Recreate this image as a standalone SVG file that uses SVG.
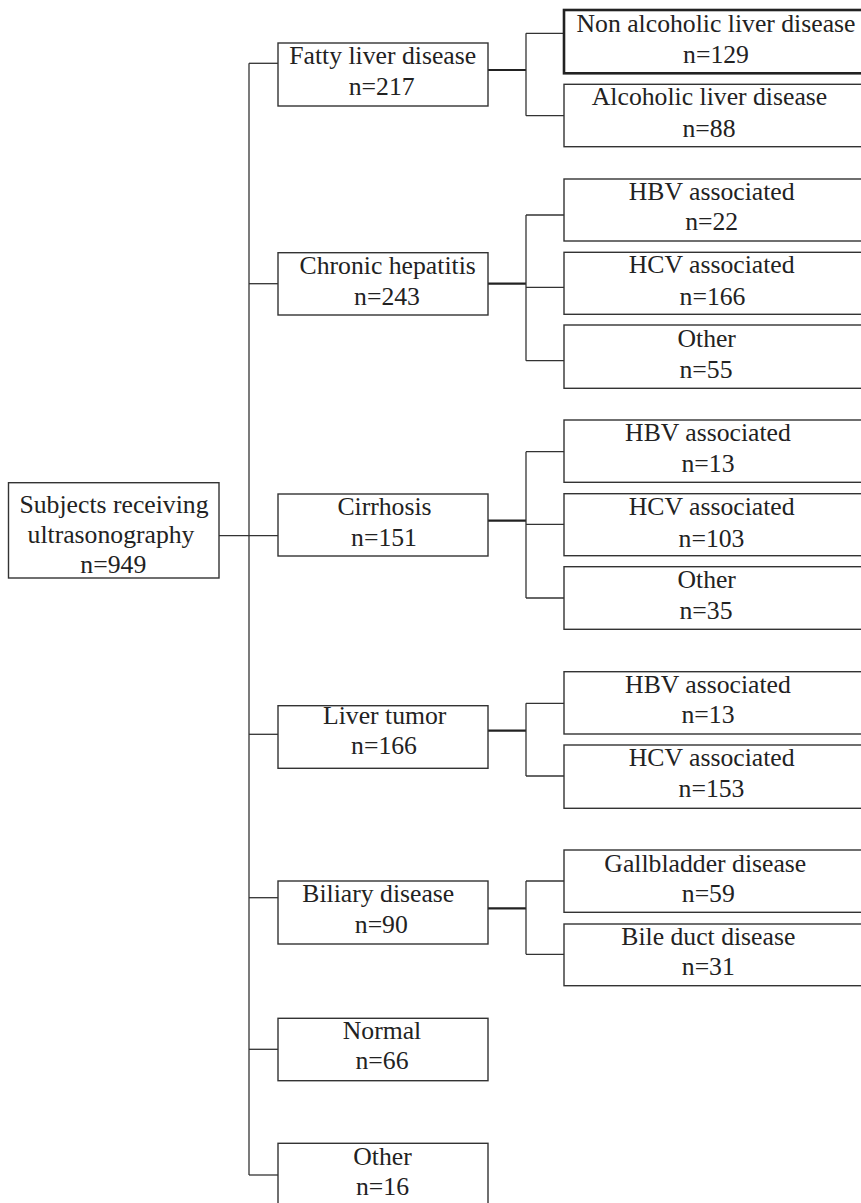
<svg xmlns="http://www.w3.org/2000/svg" width="861" height="1203" viewBox="0 0 861 1203">
<style>
rect.b{fill:#fff;stroke:#333;stroke-width:1.4}
rect.bt{fill:#fff;stroke:#222;stroke-width:2.6}
text{font-family:"Liberation Serif","Times New Roman",serif;font-size:25.7px;fill:#222;text-anchor:middle}
#connectors line{stroke:#333;stroke-width:1.3;fill:none}
#connectors line.thick{stroke:#222;stroke-width:2.2}
</style>
<rect width="861" height="1203" fill="#fff"/>
<g id="connectors">
<line x1="249" y1="63.3" x2="249" y2="1175"/>
<line x1="219" y1="535.7" x2="279" y2="535.7"/>
<line x1="249" y1="63.3" x2="279" y2="63.3"/>
<line x1="249" y1="283.7" x2="279" y2="283.7"/>
<line x1="249" y1="734.3" x2="279" y2="734.3"/>
<line x1="249" y1="897.7" x2="279" y2="897.7"/>
<line x1="249" y1="1049.3" x2="279" y2="1049.3"/>
<line x1="249" y1="1175" x2="279" y2="1175"/>
<line class="thick" x1="488" y1="70" x2="526" y2="70"/>
<line x1="526" y1="33.3" x2="526" y2="115.7"/>
<line x1="526" y1="33.3" x2="564" y2="33.3"/>
<line x1="526" y1="115.7" x2="564" y2="115.7"/>
<line class="thick" x1="488" y1="283.7" x2="526" y2="283.7"/>
<line x1="526" y1="215" x2="526" y2="360.7"/>
<line x1="526" y1="215" x2="564" y2="215"/>
<line x1="526" y1="287.3" x2="564" y2="287.3"/>
<line x1="526" y1="360.7" x2="564" y2="360.7"/>
<line class="thick" x1="488" y1="520.7" x2="526" y2="520.7"/>
<line x1="526" y1="451.7" x2="526" y2="598"/>
<line x1="526" y1="451.7" x2="564" y2="451.7"/>
<line x1="526" y1="524.3" x2="564" y2="524.3"/>
<line x1="526" y1="598" x2="564" y2="598"/>
<line class="thick" x1="488" y1="730.7" x2="526" y2="730.7"/>
<line x1="526" y1="703.3" x2="526" y2="776"/>
<line x1="526" y1="703.3" x2="564" y2="703.3"/>
<line x1="526" y1="776" x2="564" y2="776"/>
<line class="thick" x1="488" y1="908.3" x2="526" y2="908.3"/>
<line x1="526" y1="881" x2="526" y2="954.3"/>
<line x1="526" y1="881" x2="564" y2="881"/>
<line x1="526" y1="954.3" x2="564" y2="954.3"/>
</g>
<g id="root"><rect class="b" x="8.5" y="482.7" width="210.5" height="95.3"/><text x="114" y="513">Subjects receiving</text><text x="111" y="543">ultrasonography</text><text x="113.3" y="573">n=949</text></g>
<g id="fatty"><rect class="b" x="278" y="43" width="210" height="63"/><text x="382.7" y="64">Fatty liver disease</text><text x="381.7" y="95">n=217</text></g>
<g id="chronic"><rect class="b" x="278" y="252.7" width="210" height="62.3"/><text x="387.7" y="274">Chronic hepatitis</text><text x="387" y="305">n=243</text></g>
<g id="cirrhosis"><rect class="b" x="278" y="494" width="210" height="62"/><text x="384.5" y="515">Cirrhosis</text><text x="384" y="545.7">n=151</text></g>
<g id="tumor"><rect class="b" x="278" y="705.7" width="210" height="62.6"/><text x="384.7" y="724">Liver tumor</text><text x="384" y="754">n=166</text></g>
<g id="biliary"><rect class="b" x="278" y="881" width="210" height="63"/><text x="378.3" y="902.3">Biliary disease</text><text x="381.3" y="933.3">n=90</text></g>
<g id="normal"><rect class="b" x="278" y="1018.3" width="210" height="62.4"/><text x="382" y="1039.3">Normal</text><text x="382" y="1069.3">n=66</text></g>
<g id="other1"><rect class="b" x="278" y="1143.3" width="210" height="70"/><text x="382.5" y="1165">Other</text><text x="382.5" y="1195">n=16</text></g>
<g id="nald"><rect class="bt" x="564" y="10" width="310" height="63.3"/><text x="716" y="31.7">Non alcoholic liver disease</text><text x="716" y="63.3">n=129</text></g>
<g id="ald"><rect class="b" x="564" y="84.3" width="310" height="62.4"/><text x="709.5" y="105">Alcoholic liver disease</text><text x="709" y="136.7">n=88</text></g>
<g id="ch-hbv"><rect class="b" x="564" y="179" width="310" height="62"/><text x="711.7" y="200">HBV associated</text><text x="711.7" y="230">n=22</text></g>
<g id="ch-hcv"><rect class="b" x="564" y="252.3" width="310" height="62"/><text x="711.7" y="273.3">HCV associated</text><text x="712.5" y="305">n=166</text></g>
<g id="ch-other"><rect class="b" x="564" y="325" width="310" height="63.3"/><text x="706.7" y="346.7">Other</text><text x="706" y="378.3">n=55</text></g>
<g id="ci-hbv"><rect class="b" x="564" y="420" width="310" height="62.3"/><text x="708" y="440.7">HBV associated</text><text x="708" y="471.7">n=13</text></g>
<g id="ci-hcv"><rect class="b" x="564" y="493.7" width="310" height="62"/><text x="711.7" y="515">HCV associated</text><text x="711.5" y="546.7">n=103</text></g>
<g id="ci-other"><rect class="b" x="564" y="566.7" width="310" height="62.6"/><text x="706.7" y="588.3">Other</text><text x="706" y="619.3">n=35</text></g>
<g id="lt-hbv"><rect class="b" x="564" y="671.7" width="310" height="62.3"/><text x="708" y="692.7">HBV associated</text><text x="708" y="723.3">n=13</text></g>
<g id="lt-hcv"><rect class="b" x="564" y="745" width="310" height="63.3"/><text x="711.7" y="766">HCV associated</text><text x="711.5" y="796.7">n=153</text></g>
<g id="gallbladder"><rect class="b" x="564" y="850" width="310" height="62.3"/><text x="705.3" y="871.7">Gallbladder disease</text><text x="708.3" y="901.7">n=59</text></g>
<g id="bileduct"><rect class="b" x="564" y="924" width="310" height="61.7"/><text x="708.3" y="945">Bile duct disease</text><text x="708.3" y="975">n=31</text></g>
</svg>
